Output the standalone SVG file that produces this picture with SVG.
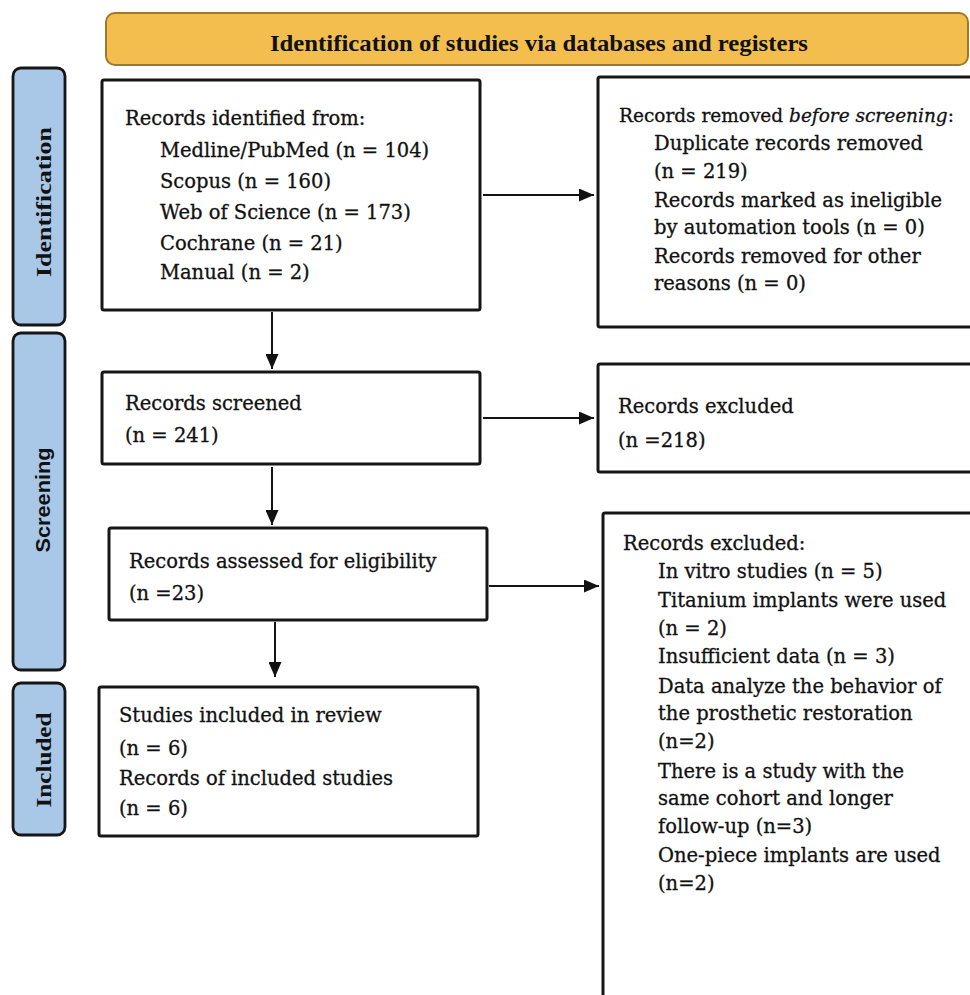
<svg xmlns="http://www.w3.org/2000/svg" width="970" height="995" viewBox="0 0 970 995">
<defs>
<marker id="ah" viewBox="0 0 15 13" refX="15" refY="6.5" markerWidth="15" markerHeight="13" markerUnits="userSpaceOnUse" orient="auto">
<path d="M0,0 L15,6.5 L0,13 Z" fill="#111"/>
</marker>
<style>
.box{fill:#fff;stroke:#161616;stroke-width:3}
.side{fill:#a9c7e7;stroke:#161616;stroke-width:2.8}
.t{font-family:"DejaVu Serif","Liberation Serif",serif;font-size:19.5px;fill:#111;stroke:#111;stroke-width:0.3}
.lab{font-family:"Liberation Serif",serif;font-weight:bold;font-size:22px;fill:#111}
.labs{font-family:"Liberation Sans",Arial,sans-serif;font-weight:bold;font-size:21px;fill:#111}
.conn{stroke:#141414;stroke-width:2;fill:none;marker-end:url(#ah)}
</style>
</defs>
<rect width="970" height="995" fill="#fff"/>

<g id="banner">
<rect x="106" y="13" width="862" height="52" rx="9" fill="#f4be4f" stroke="#9c7a2a" stroke-width="2"/>
<text x="539" y="51" text-anchor="middle" font-family="Liberation Serif, serif" font-weight="bold" font-size="23" fill="#111" textLength="538" lengthAdjust="spacingAndGlyphs">Identification of studies via databases and registers</text>
</g>

<g id="phase-identification">
<rect class="side" x="13" y="68" width="52" height="257" rx="8"/>
<text class="lab" transform="translate(51,202) rotate(-90)" text-anchor="middle" textLength="150" lengthAdjust="spacingAndGlyphs">Identification</text>
</g>
<g id="phase-screening">
<rect class="side" x="13" y="333" width="52" height="337" rx="8"/>
<text class="labs" transform="translate(50,500) rotate(-90)" text-anchor="middle" textLength="105" lengthAdjust="spacingAndGlyphs">Screening</text>
</g>
<g id="phase-included">
<rect class="side" x="13" y="683" width="52" height="152" rx="8"/>
<text class="lab" transform="translate(51,760) rotate(-90)" text-anchor="middle" textLength="95" lengthAdjust="spacingAndGlyphs">Included</text>
</g>

<g id="records-identified">
<rect class="box" x="102" y="80" width="378" height="230" rx="2"/>
<text class="t" x="125" y="125">Records identified from:</text>
<text class="t" x="160" y="157">Medline/PubMed (n = 104)</text>
<text class="t" x="160" y="188">Scopus (n = 160)</text>
<text class="t" x="160" y="219">Web of Science (n = 173)</text>
<text class="t" x="160" y="250">Cochrane (n = 21)</text>
<text class="t" x="160" y="279">Manual (n = 2)</text>
</g>

<g id="records-removed">
<rect class="box" x="598" y="77" width="390" height="250" rx="2"/>
<text class="t" x="619" y="122" style="font-size:18.5px">Records removed <tspan font-style="italic">before screening</tspan>:</text>
<text class="t" x="654" y="150">Duplicate records removed</text>
<text class="t" x="654" y="178">(n = 219)</text>
<text class="t" x="654" y="207">Records marked as ineligible</text>
<text class="t" x="654" y="234">by automation tools (n = 0)</text>
<text class="t" x="654" y="263">Records removed for other</text>
<text class="t" x="654" y="290">reasons (n = 0)</text>
</g>

<g id="records-screened">
<rect class="box" x="102" y="372" width="378" height="92" rx="2"/>
<text class="t" x="125" y="410">Records screened</text>
<text class="t" x="125" y="442">(n = 241)</text>
</g>

<g id="records-excluded-1">
<rect class="box" x="598" y="364" width="390" height="108" rx="2"/>
<text class="t" x="618" y="413">Records excluded</text>
<text class="t" x="618" y="447">(n =218)</text>
</g>

<g id="records-assessed">
<rect class="box" x="109" y="528" width="378" height="92" rx="2"/>
<text class="t" x="129" y="568">Records assessed for eligibility</text>
<text class="t" x="129" y="600">(n =23)</text>
</g>

<g id="records-excluded-2">
<rect class="box" x="603" y="513" width="390" height="500" rx="2"/>
<text class="t" x="623" y="550">Records excluded:</text>
<text class="t" x="658" y="578">In vitro studies (n = 5)</text>
<text class="t" x="658" y="607">Titanium implants were used</text>
<text class="t" x="658" y="635">(n = 2)</text>
<text class="t" x="658" y="663">Insufficient data (n = 3)</text>
<text class="t" x="658" y="693">Data analyze the behavior of</text>
<text class="t" x="658" y="720">the prosthetic restoration</text>
<text class="t" x="658" y="748">(n=2)</text>
<text class="t" x="658" y="778">There is a study with the</text>
<text class="t" x="658" y="805">same cohort and longer</text>
<text class="t" x="658" y="833">follow-up (n=3)</text>
<text class="t" x="658" y="862">One-piece implants are used</text>
<text class="t" x="658" y="890">(n=2)</text>
</g>

<g id="studies-included">
<rect class="box" x="99" y="687" width="379" height="149" rx="2"/>
<text class="t" x="119" y="722">Studies included in review</text>
<text class="t" x="119" y="755">(n = 6)</text>
<text class="t" x="119" y="785">Records of included studies</text>
<text class="t" x="119" y="815">(n = 6)</text>
</g>

<g id="connectors">
<line class="conn" x1="483" y1="195" x2="594" y2="195"/>
<line class="conn" x1="272" y1="312" x2="272" y2="369"/>
<line class="conn" x1="483" y1="418" x2="594" y2="418"/>
<line class="conn" x1="272" y1="467" x2="272" y2="525"/>
<line class="conn" x1="489" y1="586" x2="599" y2="586"/>
<line class="conn" x1="275" y1="622" x2="275" y2="677"/>
</g>
</svg>
